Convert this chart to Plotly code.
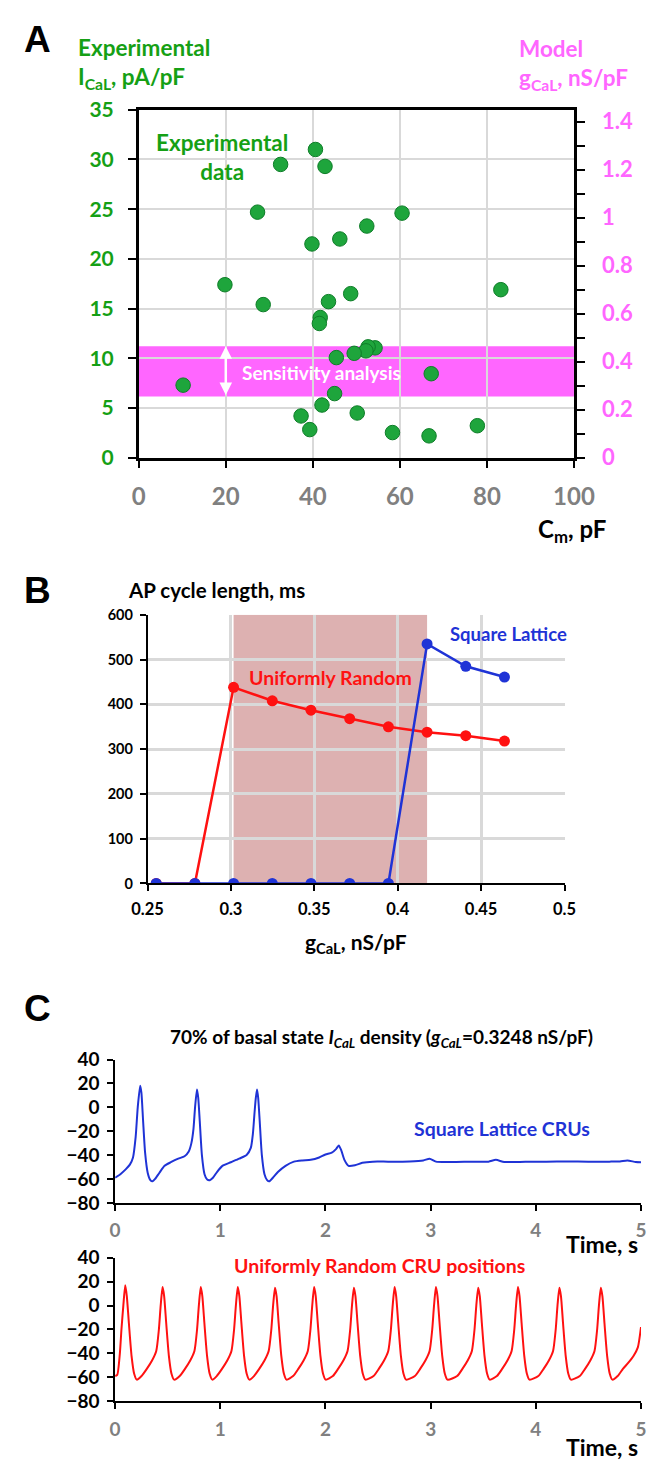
import plotly.graph_objects as go

W, H = 662, 1476
FONT = "Lato"

# ---------------- Panel A data ----------------
cm_pF = [40.6, 32.6, 42.8, 27.3, 60.5, 52.4, 39.8, 46.2, 19.8, 83.2, 48.7, 28.6, 43.6, 41.7, 41.5,
         54.3, 52.7, 52.2, 49.5, 45.4, 10.2, 67.2, 45.0, 42.1, 37.3, 50.2, 39.3, 58.3, 66.7, 77.8]
ical_pApF = [31.0, 29.5, 29.3, 24.7, 24.6, 23.3, 21.5, 22.0, 17.4, 16.9, 16.5, 15.4, 15.7, 14.1, 13.5,
             11.05, 11.15, 10.75, 10.5, 10.07, 7.3, 8.45, 6.45, 5.3, 4.2, 4.5, 2.83, 2.53, 2.2, 3.22]
left_range = [0, 35]
right_range = [0, 1.45]
model_gcal_range = [0.2552, 0.464]

# ---------------- Panel B data ----------------
gcal = [0.2552, 0.2784, 0.3016, 0.3248, 0.3480, 0.3712, 0.3944, 0.4176, 0.4408, 0.4640]
cl_random = [0, 0, 438, 408, 387, 368, 350, 338, 330, 318]
cl_square = [0, 0, 0, 0, 0, 0, 0, 535, 485, 461]
shade_range = [0.3016, 0.4176]

# ---------------- Panel C data ----------------
t_square = [0, 0.05, 0.1, 0.14, 0.17, 0.195, 0.215, 0.238, 0.25, 0.265, 0.285, 0.31, 0.335, 0.356,
            0.38, 0.42, 0.47, 0.53, 0.6, 0.66, 0.7, 0.725, 0.745, 0.76, 0.778, 0.79, 0.805, 0.825,
            0.85, 0.875, 0.9, 0.93, 0.97, 1.02, 1.1, 1.18, 1.25, 1.29, 1.31, 1.325, 1.338, 1.349,
            1.36, 1.375, 1.395, 1.42, 1.445, 1.465, 1.5, 1.55, 1.62, 1.7, 1.78, 1.86, 1.94, 2.0,
            2.06, 2.1, 2.126, 2.15, 2.18, 2.22, 2.28, 2.35, 2.45, 2.6, 2.8, 2.93, 2.99, 3.05, 3.2,
            3.4, 3.55, 3.62, 3.7, 3.9, 4.1, 4.3, 4.5, 4.7, 4.8, 4.87, 4.95, 5.0]
v_square = [-59, -56, -52, -48, -42, -25, 0, 18, 12, -10, -38, -55, -61, -62,
            -60, -55, -49, -46, -43, -41, -37, -30, -18, 0, 15, 8, -12, -40,
            -56, -60.5, -61, -59, -54, -49, -46, -43, -40, -34, -22, -5, 8, 15,
            8, -12, -40, -56, -61, -62, -59, -54, -49, -45.5, -44.5, -44, -42, -39.5,
            -38, -35, -32, -36, -44, -49, -48.5, -46.5, -45.5, -45.5, -45.3, -44.5, -43, -45.5, -45.8,
            -45.5, -45.5, -44, -45.8, -45.6, -45.5, -45.3, -45.6, -45.5, -45.3, -44.5, -45.8, -46]

t_random = [0, 0.02, 0.045, 0.06, 0.078, 0.096, 0.111, 0.131, 0.156, 0.181, 0.206,
            0.251, 0.301, 0.351, 0.391, 0.416, 0.433, 0.451, 0.466, 0.486, 0.511, 0.536, 0.561,
            0.614, 0.664, 0.714, 0.754, 0.779, 0.796, 0.814, 0.829, 0.849, 0.874, 0.899, 0.924,
            0.966, 1.016, 1.066, 1.106, 1.131, 1.148, 1.166, 1.181, 1.201, 1.226, 1.251, 1.276,
            1.32, 1.37, 1.42, 1.46, 1.485, 1.502, 1.52, 1.535, 1.555, 1.58, 1.605, 1.63,
            1.692, 1.742, 1.792, 1.832, 1.857, 1.874, 1.892, 1.907, 1.927, 1.952, 1.977, 2.002,
            2.07, 2.12, 2.17, 2.21, 2.235, 2.252, 2.27, 2.285, 2.305, 2.33, 2.355, 2.38,
            2.457, 2.507, 2.557, 2.597, 2.622, 2.639, 2.657, 2.672, 2.692, 2.717, 2.742, 2.767,
            2.85, 2.9, 2.95, 2.99, 3.015, 3.032, 3.05, 3.065, 3.085, 3.11, 3.135, 3.16,
            3.252, 3.302, 3.352, 3.392, 3.417, 3.434, 3.452, 3.467, 3.487, 3.512, 3.537, 3.562,
            3.63, 3.68, 3.73, 3.77, 3.795, 3.812, 3.83, 3.845, 3.865, 3.89, 3.915, 3.94,
            4.024, 4.074, 4.124, 4.164, 4.189, 4.206, 4.224, 4.239, 4.259, 4.284, 4.309, 4.334,
            4.418, 4.468, 4.518, 4.558, 4.583, 4.6, 4.618, 4.633, 4.653, 4.678, 4.703, 4.728,
            4.778, 4.828, 4.878, 4.93, 4.97, 5.0]
v_random = [-59, -58, -40, -20, 0, 17, 8, -15, -42, -57, -62,
            -59, -53, -46, -38, -20, 0, 15.5, 8, -15, -42, -57, -62,
            -59, -53, -46, -38, -20, 0, 15.5, 8, -15, -42, -57, -62,
            -59, -53, -46, -38, -20, 0, 15.5, 8, -15, -42, -57, -62,
            -59, -53, -46, -38, -20, 0, 15, 8, -15, -42, -57, -62,
            -59, -53, -46, -38, -20, 0, 15.5, 8, -15, -42, -57, -62,
            -59, -53, -46, -38, -20, 0, 15, 8, -15, -42, -57, -62,
            -59, -53, -46, -38, -20, 0, 15.5, 8, -15, -42, -57, -62,
            -59, -53, -46, -38, -20, 0, 15.5, 8, -15, -42, -57, -62,
            -59, -53, -46, -38, -20, 0, 15, 8, -15, -42, -57, -62,
            -59, -53, -46, -38, -20, 0, 15.5, 8, -15, -42, -57, -62,
            -59, -53, -46, -38, -20, 0, 15, 8, -15, -42, -57, -62,
            -59, -53, -46, -38, -20, 0, 15, 8, -15, -42, -57, -62,
            -59, -53, -48, -42, -35, -18]


def fx(p):
    return min(p / W, 1.0)


def fy(p):
    return 1 - p / H


GREEN = "#15a015"
MAGENTA = "#ff66ff"
GRAY = "#808080"
BLUE = "#1f33d6"
RED = "#ff1111"
GRID = "#d9d9d9"

fig = go.Figure()

# Panel A
fig.add_trace(go.Scatter(x=cm_pF, y=ical_pApF, mode="markers", xaxis="x", yaxis="y",
                         marker=dict(size=14.5, color="#1ea53c", line=dict(color="#0e7d28", width=1)),
                         showlegend=False, hoverinfo="skip"))
fig.add_trace(go.Scatter(x=[None], y=[None], xaxis="x", yaxis="y2", showlegend=False))

# Panel B
fig.add_trace(go.Scatter(x=gcal, y=cl_random, mode="lines+markers", xaxis="x2", yaxis="y3",
                         line=dict(color=RED, width=2.5), marker=dict(size=11, color=RED),
                         showlegend=False))
fig.add_trace(go.Scatter(x=gcal, y=cl_square, mode="lines+markers", xaxis="x2", yaxis="y3",
                         line=dict(color=BLUE, width=2.5), marker=dict(size=11, color=BLUE),
                         showlegend=False))

# Panel C
fig.add_trace(go.Scatter(x=t_square, y=v_square, mode="lines", xaxis="x3", yaxis="y4",
                         line=dict(color=BLUE, width=2, shape="spline", smoothing=0.6),
                         showlegend=False))
fig.add_trace(go.Scatter(x=t_random, y=v_random, mode="lines", xaxis="x4", yaxis="y5",
                         line=dict(color=RED, width=2, shape="spline", smoothing=0.6),
                         showlegend=False))


def tf(size, color="black"):
    return dict(family=FONT, size=size, color=color, weight="bold")


C_AX = dict(showgrid=False, zeroline=False, showline=True, linecolor="black", linewidth=1.5,
            ticks="outside", ticklen=6, tickwidth=1.5, tickcolor="black")

layout = dict(
    width=W, height=H, margin=dict(l=0, r=0, t=0, b=0),
    paper_bgcolor="white", plot_bgcolor="rgba(0,0,0,0)",
    font=dict(family=FONT),
    # Panel A
    xaxis=dict(domain=[fx(130), fx(591)], range=[0, 100], dtick=20, anchor="y",
               showgrid=True, gridcolor=GRID, gridwidth=1.5, zeroline=False,
               showline=True, linecolor="black", linewidth=2.5, mirror=True,
               ticks="outside", ticklen=8, tickwidth=2, tickcolor="black",
               tickfont=tf(24, GRAY), ticklabelstandoff=8),
    yaxis=dict(domain=[fy(452), fy(97.5)], range=left_range, dtick=5, anchor="x",
               showgrid=True, gridcolor=GRID, gridwidth=1.5, zeroline=False,
               showline=True, linecolor="black", linewidth=2.5,
               ticks="outside", ticklen=8, tickwidth=2, tickcolor="black",
               tickfont=tf(21, GREEN), ticklabelstandoff=10),
    yaxis2=dict(overlaying="y", side="right", anchor="x", range=right_range, dtick=0.2,
                showgrid=False, zeroline=False, showline=True, linecolor="black", linewidth=2.5,
                ticks="outside", ticklen=8, tickwidth=2, tickcolor="black",
                minor=dict(dtick=0.1, ticks="outside", ticklen=8, tickwidth=2, tickcolor="black"),
                tickfont=tf(22, MAGENTA), ticklabelstandoff=13),
    # Panel B
    xaxis2=dict(domain=[fx(139.3), fx(581)], range=[0.25, 0.5], dtick=0.05, anchor="y3",
                showgrid=True, gridcolor=GRID, gridwidth=2.5, zeroline=False,
                showline=True, linecolor="black", linewidth=1.5,
                ticks="outside", ticklen=6, tickwidth=1.5, tickcolor="black",
                tickfont=tf(16.5), ticklabelstandoff=4),
    yaxis3=dict(domain=[fy(885.7), fy(612)], range=[0, 600], dtick=100, anchor="x2",
                showgrid=True, gridcolor=GRID, gridwidth=2.5, zeroline=False,
                showline=True, linecolor="black", linewidth=1.5,
                ticks="outside", ticklen=6, tickwidth=1.5, tickcolor="black",
                tickfont=tf(14.5), ticklabelstandoff=4),
    # Panel C top
    xaxis3=dict(domain=[fx(105), 1.0], range=[0, 5], dtick=1, anchor="y4",
                tickfont=tf(19, GRAY), ticklabelstandoff=4, **C_AX),
    yaxis4=dict(domain=[fy(1211), fy(1065)], range=[-80, 40], dtick=20, anchor="x3",
                tickfont=tf(19), ticklabelstandoff=4, **C_AX),
    # Panel C bottom
    xaxis4=dict(domain=[fx(105), 1.0], range=[0, 5], dtick=1, anchor="y5",
                tickfont=tf(19, GRAY), ticklabelstandoff=4, **C_AX),
    yaxis5=dict(domain=[fy(1413), fy(1267)], range=[-80, 40], dtick=20, anchor="x4",
                tickfont=tf(19), ticklabelstandoff=4, **C_AX),
)
fig.update_layout(**layout)

# Shapes: sensitivity band (model g range mapped to left-axis units) and B shading
scale = left_range[1] / right_range[1]
band_lo = model_gcal_range[0] * scale
band_hi = model_gcal_range[1] * scale
fig.add_shape(type="rect", xref="x", yref="y", x0=0, x1=100, y0=band_lo, y1=band_hi,
              fillcolor=MAGENTA, line=dict(width=0), layer="below")
fig.add_shape(type="rect", xref="x2", yref="y3", x0=shade_range[0], x1=shade_range[1], y0=0, y1=600,
              fillcolor="#ddb1b1", line=dict(width=0), layer="below")

ann = []


def A(text, x, y, size, color="black", xanchor="center", yanchor="middle", align="center", family=FONT, **kw):
    ann.append(dict(text=text, x=fx(x), y=fy(y), xref="paper", yref="paper", showarrow=False,
                    xanchor=xanchor, yanchor=yanchor, align=align,
                    font=dict(family=family, size=size, color=color, weight="bold"), **kw))


# Panel letters
A("A", 23, 26, 37, family="Liberation Sans")
A("B", 23, 587, 37, family="Liberation Sans")
A("C", 23, 1013, 37, family="Liberation Sans")

# Panel A texts
A("Experimental<br>I<sub>CaL</sub>, pA/pF", 64, 50, 22.5, GREEN, xanchor="left", align="left")
A("Model<br>g<sub>CaL</sub>, nS/pF", 531, 51, 22.5, MAGENTA, xanchor="left", align="left")
A("Experimental<br>data", 218, 146, 22.5, GREEN)
A("Sensitivity analysis", 237, 365, 19, "white", xanchor="left")
A("C<sub>m</sub>, pF", 627, 526, 24, "black", xanchor="right")

# Panel B texts
A("AP cycle length, ms", 117, 587, 20.5, "black", xanchor="left")
A("Square Lattice", 458, 632, 18.5, BLUE, xanchor="left")
A("Uniformly Random", 245, 676, 19.5, RED, xanchor="left")
A("g<sub>CaL</sub>, nS/pF", 360, 946, 21, "black")

# Panel C texts
A("70% of basal state <i>I<sub>CaL</sub></i> density (<i>g<sub>CaL</sub></i>=0.3248 nS/pF)", 387, 1043, 19, "black")
A("Square Lattice CRUs", 515, 1135, 19.5, BLUE)
A("Time, s", 661, 1253, 23, "black", xanchor="right")
A("Uniformly Random CRU positions", 385, 1275, 19.5, RED)
A("Time, s", 661, 1460, 23, "black", xanchor="right")

# Double arrow for sensitivity range
ann.append(dict(x=20, y=band_hi, ax=20, ay=band_lo, xref="x", yref="y", axref="x", ayref="y",
                text="", showarrow=True, arrowside="end+start", arrowhead=2, arrowsize=1,
                arrowwidth=2.5, arrowcolor="white"))

fig.update_layout(annotations=ann)
fig.write_html("out.html")
